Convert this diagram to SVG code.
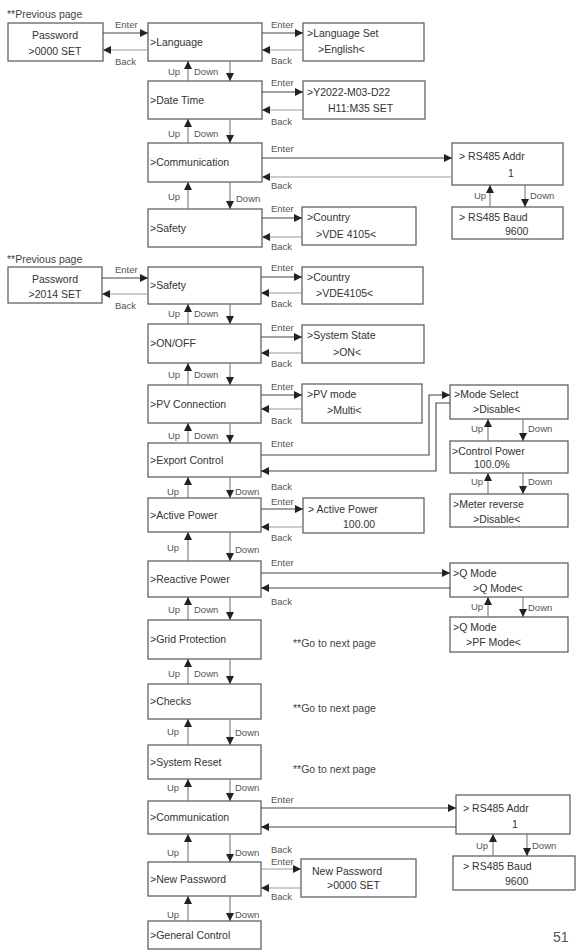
<svg xmlns="http://www.w3.org/2000/svg" width="576" height="951" viewBox="0 0 576 951">
<style>
.box{fill:#fff;stroke:#555;stroke-width:1.2}
.t{font-family:"Liberation Sans",Arial,sans-serif;font-size:10.5px;fill:#333}
.c{text-anchor:middle}
.lb{font-family:"Liberation Sans",Arial,sans-serif;font-size:9.5px;fill:#555}
.en{stroke:#444;stroke-width:1.1;fill:none;marker-end:url(#ah)}
.bk{stroke:#999;stroke-width:1.1;fill:none;marker-end:url(#ah)}
.v{stroke:#777;stroke-width:1.1;fill:none;marker-end:url(#ah)}
.note{font-family:"Liberation Sans",Arial,sans-serif;font-size:10.5px;fill:#444}
</style>
<defs>
<marker id="ah" viewBox="0 0 10 10" refX="10" refY="5" markerWidth="9" markerHeight="8" markerUnits="userSpaceOnUse" orient="auto"><path d="M0,0 L10,5 L0,10 z" fill="#222"/></marker>
</defs>
<rect width="576" height="951" fill="#fff"/>

<!-- Section 1 -->
<text class="note" x="7" y="18">**Previous page</text>
<g id="pw1"><rect class="box" x="8" y="23" width="95" height="38"/><text class="t c" x="55" y="39">Password</text><text class="t c" x="55" y="55">&gt;0000 SET</text></g>
<g id="lang"><rect class="box" x="148" y="23" width="114" height="38"/><text class="t" x="150" y="46">&gt;Language</text></g>
<g id="langset"><rect class="box" x="303" y="23" width="121" height="38"/><text class="t" x="307" y="37">&gt;Language Set</text><text class="t" x="318" y="53">&gt;English&lt;</text></g>
<g id="date"><rect class="box" x="148" y="81" width="114" height="38"/><text class="t" x="150" y="104">&gt;Date Time</text></g>
<g id="dateset"><rect class="box" x="303" y="81" width="122" height="38"/><text class="t" x="307" y="96">&gt;Y2022-M03-D22</text><text class="t" x="328" y="112">H11:M35 SET</text></g>
<g id="comm1"><rect class="box" x="148" y="143" width="114" height="39"/><text class="t" x="150" y="166">&gt;Communication</text></g>
<g id="addr1"><rect class="box" x="452" y="143" width="111" height="42"/><text class="t" x="459" y="160">&gt; RS485 Addr</text><text class="t" x="508" y="177">1</text></g>
<g id="baud1"><rect class="box" x="452" y="207" width="111" height="32"/><text class="t" x="459" y="221">&gt; RS485 Baud</text><text class="t" x="505" y="235">9600</text></g>
<g id="safety1"><rect class="box" x="148" y="209" width="114" height="38"/><text class="t" x="150" y="232">&gt;Safety</text></g>
<g id="country1"><rect class="box" x="302" y="207" width="114" height="38"/><text class="t" x="307" y="221">&gt;Country</text><text class="t" x="316" y="238">&gt;VDE 4105&lt;</text></g>

<!-- Section 2 -->
<text class="note" x="7" y="263">**Previous page</text>
<g id="pw2"><rect class="box" x="8" y="267" width="94" height="36"/><text class="t c" x="55" y="283">Password</text><text class="t c" x="55" y="298">&gt;2014 SET</text></g>
<g id="safety2"><rect class="box" x="148" y="267" width="113" height="37"/><text class="t" x="150" y="289">&gt;Safety</text></g>
<g id="country2"><rect class="box" x="302" y="267" width="121" height="37"/><text class="t" x="307" y="281">&gt;Country</text><text class="t" x="316" y="297">&gt;VDE4105&lt;</text></g>
<g id="onoff"><rect class="box" x="148" y="324" width="113" height="39"/><text class="t" x="150" y="347">&gt;ON/OFF</text></g>
<g id="sysstate"><rect class="box" x="302" y="325" width="122" height="38"/><text class="t" x="307" y="339">&gt;System State</text><text class="t" x="333" y="356">&gt;ON&lt;</text></g>
<g id="pvconn"><rect class="box" x="148" y="385" width="113" height="38"/><text class="t" x="150" y="408">&gt;PV Connection</text></g>
<g id="pvmode"><rect class="box" x="302" y="384" width="120" height="39"/><text class="t" x="307" y="398">&gt;PV mode</text><text class="t" x="327" y="414">&gt;Multi&lt;</text></g>
<g id="export"><rect class="box" x="148" y="443" width="113" height="34"/><text class="t" x="150" y="464">&gt;Export Control</text></g>
<g id="modesel"><rect class="box" x="450" y="385" width="118" height="34"/><text class="t" x="454" y="398">&gt;Mode Select</text><text class="t" x="473" y="413">&gt;Disable&lt;</text></g>
<g id="ctrlpow"><rect class="box" x="450" y="441" width="118" height="32"/><text class="t" x="452" y="455">&gt;Control Power</text><text class="t" x="474" y="468">100.0%</text></g>
<g id="meterrev"><rect class="box" x="450" y="494" width="118" height="33"/><text class="t" x="453" y="508">&gt;Meter reverse</text><text class="t" x="473" y="523">&gt;Disable&lt;</text></g>
<g id="active"><rect class="box" x="148" y="498" width="113" height="34"/><text class="t" x="150" y="519">&gt;Active Power</text></g>
<g id="activeset"><rect class="box" x="303" y="498" width="121" height="35"/><text class="t" x="308" y="513">&gt; Active Power</text><text class="t" x="343" y="528">100.00</text></g>
<g id="reactive"><rect class="box" x="148" y="561" width="113" height="36"/><text class="t" x="150" y="583">&gt;Reactive Power</text></g>
<g id="qmode1"><rect class="box" x="450" y="563" width="118" height="34"/><text class="t" x="453" y="577">&gt;Q Mode</text><text class="t" x="473" y="592">&gt;Q Mode&lt;</text></g>
<g id="qmode2"><rect class="box" x="450" y="617" width="118" height="35"/><text class="t" x="453" y="631">&gt;Q Mode</text><text class="t" x="466" y="646">&gt;PF Mode&lt;</text></g>
<g id="grid"><rect class="box" x="148" y="620" width="113" height="39"/><text class="t" x="150" y="643">&gt;Grid Protection</text></g>
<g id="checks"><rect class="box" x="148" y="684" width="113" height="35"/><text class="t" x="150" y="705">&gt;Checks</text></g>
<g id="sysreset"><rect class="box" x="148" y="745" width="113" height="34"/><text class="t" x="150" y="766">&gt;System Reset</text></g>
<g id="comm2"><rect class="box" x="148" y="801" width="113" height="33"/><text class="t" x="150" y="821">&gt;Communication</text></g>
<g id="addr2"><rect class="box" x="456" y="795" width="114" height="39"/><text class="t" x="463" y="812">&gt; RS485 Addr</text><text class="t" x="512" y="828">1</text></g>
<g id="baud2"><rect class="box" x="453" y="856" width="122" height="34"/><text class="t" x="463" y="870">&gt; RS485 Baud</text><text class="t" x="505" y="885">9600</text></g>
<g id="newpw"><rect class="box" x="148" y="862" width="113" height="34"/><text class="t" x="150" y="883">&gt;New Password</text></g>
<g id="newpwset"><rect class="box" x="301" y="859" width="115" height="38"/><text class="t" x="312" y="875">New Password</text><text class="t" x="327" y="889">&gt;0000 SET</text></g>
<g id="general"><rect class="box" x="148" y="921" width="113" height="28"/><text class="t" x="150" y="939">&gt;General Control</text></g>

<text class="note" x="293" y="647">**Go to next page</text>
<text class="note" x="293" y="712">**Go to next page</text>
<text class="note" x="293" y="773">**Go to next page</text>
<text x="553" y="942" style="font-family:'Liberation Sans',Arial,sans-serif;font-size:14px;fill:#555">51</text>

<g id="connectors">
<!-- section 1 horizontal -->
<line class="en" x1="103" y1="33" x2="148" y2="33"/>
<line class="bk" x1="148" y1="50" x2="103" y2="50"/>
<line class="en" x1="262" y1="33" x2="303" y2="33"/>
<line class="bk" x1="303" y1="50" x2="262" y2="50"/>
<line class="en" x1="262" y1="92" x2="303" y2="92"/>
<line class="bk" x1="303" y1="110" x2="262" y2="110"/>
<line class="en" x1="262" y1="158" x2="452" y2="158"/>
<line class="bk" x1="452" y1="177" x2="262" y2="177"/>
<line class="en" x1="262" y1="218" x2="302" y2="218"/>
<line class="bk" x1="302" y1="237" x2="262" y2="237"/>
<!-- section 1 vertical -->
<line class="v" x1="188" y1="81" x2="188" y2="61"/><line class="v" x1="230" y1="61" x2="230" y2="81"/>
<line class="v" x1="188" y1="143" x2="188" y2="119"/><line class="v" x1="230" y1="119" x2="230" y2="143"/>
<line class="v" x1="188" y1="209" x2="188" y2="182"/><line class="v" x1="230" y1="182" x2="230" y2="209"/>
<line class="v" x1="490" y1="207" x2="490" y2="185"/><line class="v" x1="525" y1="185" x2="525" y2="207"/>
<!-- section 2 horizontal -->
<line class="en" x1="102" y1="278" x2="148" y2="278"/>
<line class="bk" x1="148" y1="294" x2="102" y2="294"/>
<line class="en" x1="261" y1="277" x2="302" y2="277"/>
<line class="bk" x1="302" y1="293" x2="261" y2="293"/>
<line class="en" x1="261" y1="337" x2="302" y2="337"/>
<line class="bk" x1="302" y1="353" x2="261" y2="353"/>
<line class="en" x1="261" y1="395" x2="302" y2="395"/>
<line class="bk" x1="302" y1="409" x2="261" y2="409"/>
<polyline class="en" points="261,455 429,455 429,395 450,395"/>
<polyline class="en" points="450,403 436,403 436,471 261,471"/>
<line class="en" x1="261" y1="509" x2="303" y2="509"/>
<line class="bk" x1="303" y1="527" x2="261" y2="527"/>
<line class="en" x1="261" y1="573" x2="450" y2="573"/>
<line class="en" x1="450" y1="588" x2="261" y2="588"/>
<line class="en" x1="261" y1="808" x2="456" y2="808"/>
<line class="en" x1="456" y1="827" x2="261" y2="827"/>
<line class="bk" x1="261" y1="869" x2="301" y2="869"/>
<line class="bk" x1="301" y1="888" x2="261" y2="888"/>
<!-- section 2 vertical -->
<line class="v" x1="188" y1="324" x2="188" y2="304"/><line class="v" x1="230" y1="304" x2="230" y2="324"/>
<line class="v" x1="188" y1="385" x2="188" y2="363"/><line class="v" x1="230" y1="363" x2="230" y2="385"/>
<line class="v" x1="188" y1="443" x2="188" y2="423"/><line class="v" x1="230" y1="423" x2="230" y2="443"/>
<line class="v" x1="188" y1="498" x2="188" y2="477"/><line class="v" x1="230" y1="477" x2="230" y2="498"/>
<line class="v" x1="188" y1="561" x2="188" y2="532"/><line class="v" x1="230" y1="532" x2="230" y2="561"/>
<line class="v" x1="188" y1="620" x2="188" y2="597"/><line class="v" x1="230" y1="597" x2="230" y2="620"/>
<line class="v" x1="188" y1="684" x2="188" y2="659"/><line class="v" x1="230" y1="659" x2="230" y2="684"/>
<line class="v" x1="188" y1="745" x2="188" y2="719"/><line class="v" x1="230" y1="719" x2="230" y2="745"/>
<line class="v" x1="188" y1="801" x2="188" y2="779"/><line class="v" x1="230" y1="779" x2="230" y2="801"/>
<line class="v" x1="188" y1="862" x2="188" y2="834"/><line class="v" x1="230" y1="834" x2="230" y2="862"/>
<line class="v" x1="188" y1="921" x2="188" y2="896"/><line class="v" x1="230" y1="896" x2="230" y2="921"/>
<line class="v" x1="488" y1="441" x2="488" y2="419"/><line class="v" x1="523" y1="419" x2="523" y2="441"/>
<line class="v" x1="488" y1="494" x2="488" y2="473"/><line class="v" x1="523" y1="473" x2="523" y2="494"/>
<line class="v" x1="488" y1="617" x2="488" y2="597"/><line class="v" x1="523" y1="597" x2="523" y2="617"/>
<line class="v" x1="493" y1="856" x2="493" y2="834"/><line class="v" x1="527" y1="834" x2="527" y2="856"/>
</g>

<g id="labels">
<text class="lb" x="115" y="28">Enter</text><text class="lb" x="115" y="65">Back</text>
<text class="lb" x="271" y="28">Enter</text><text class="lb" x="271" y="64">Back</text>
<text class="lb" x="271" y="86">Enter</text><text class="lb" x="271" y="125">Back</text>
<text class="lb" x="271" y="152">Enter</text><text class="lb" x="271" y="189">Back</text>
<text class="lb" x="271" y="212">Enter</text><text class="lb" x="271" y="250">Back</text>
<text class="lb" x="168" y="75">Up</text><text class="lb" x="194" y="75">Down</text>
<text class="lb" x="168" y="137">Up</text><text class="lb" x="194" y="137">Down</text>
<text class="lb" x="168" y="200">Up</text><text class="lb" x="236" y="202">Down</text>
<text class="lb" x="474" y="199">Up</text><text class="lb" x="530" y="199">Down</text>

<text class="lb" x="115" y="273">Enter</text><text class="lb" x="115" y="309">Back</text>
<text class="lb" x="271" y="271">Enter</text><text class="lb" x="271" y="307">Back</text>
<text class="lb" x="271" y="331">Enter</text><text class="lb" x="271" y="367">Back</text>
<text class="lb" x="271" y="390">Enter</text><text class="lb" x="271" y="424">Back</text>
<text class="lb" x="271" y="447">Enter</text><text class="lb" x="271" y="490">Back</text>
<text class="lb" x="271" y="505">Enter</text><text class="lb" x="271" y="541">Back</text>
<text class="lb" x="271" y="566">Enter</text><text class="lb" x="271" y="605">Back</text>
<text class="lb" x="271" y="803">Enter</text><text class="lb" x="271" y="853">Back</text>
<text class="lb" x="271" y="865">Enter</text><text class="lb" x="271" y="900">Back</text>
<text class="lb" x="168" y="317">Up</text><text class="lb" x="194" y="317">Down</text>
<text class="lb" x="168" y="378">Up</text><text class="lb" x="194" y="378">Down</text>
<text class="lb" x="168" y="439">Up</text><text class="lb" x="194" y="439">Down</text>
<text class="lb" x="167" y="495">Up</text><text class="lb" x="235" y="495">Down</text>
<text class="lb" x="167" y="551">Up</text><text class="lb" x="235" y="553">Down</text>
<text class="lb" x="168" y="613">Up</text><text class="lb" x="194" y="613">Down</text>
<text class="lb" x="168" y="677">Up</text><text class="lb" x="194" y="677">Down</text>
<text class="lb" x="167" y="735">Up</text><text class="lb" x="235" y="736">Down</text>
<text class="lb" x="167" y="791">Up</text><text class="lb" x="235" y="791">Down</text>
<text class="lb" x="167" y="856">Up</text><text class="lb" x="235" y="856">Down</text>
<text class="lb" x="167" y="918">Up</text><text class="lb" x="235" y="918">Down</text>
<text class="lb" x="471" y="432">Up</text><text class="lb" x="528" y="432">Down</text>
<text class="lb" x="471" y="485">Up</text><text class="lb" x="528" y="485">Down</text>
<text class="lb" x="471" y="610">Up</text><text class="lb" x="528" y="611">Down</text>
<text class="lb" x="476" y="849">Up</text><text class="lb" x="532" y="849">Down</text>
</g>
</svg>
